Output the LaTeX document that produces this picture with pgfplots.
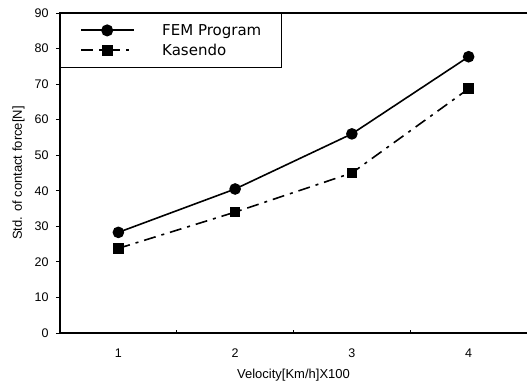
\documentclass[border=0pt]{standalone}
\usepackage{fontspec}
\setmainfont{Liberation Sans}
\newfontfamily\legfont{DejaVu Sans}
\usepackage{pgfplots}
\pgfplotsset{compat=1.18}
\begin{document}
\begin{tikzpicture}
\begin{axis}[
  scale only axis, width=467pt, height=320pt,
  xmin=0.5, xmax=4.5, ymin=0, ymax=90,
  clip=false,
  axis line style={draw=none},
  /pgf/number format/assume math mode=true,
  xtick={1,2,3,4},
  minor xtick={1.5,2.5,3.5},
  xtick pos=bottom, ytick pos=left,
  xtick align=inside, ytick align=outside,
  major tick length=4pt, minor tick length=3pt,
  major x tick style={draw=none},
  minor x tick style={black, line width=0.6pt},
  major y tick style={black, line width=0.8pt},
  ytick={0,10,...,90},
  tick label style={font=\fontsize{12.5}{14}\selectfont},
  xticklabel style={yshift=-12pt},
  yticklabel style={xshift=-4pt},
  label style={font=\fontsize{13}{15}\selectfont},
  xlabel={Velocity[Km/h]X100},
  ylabel={Std. of contact force[N]},
  xlabel style={yshift=-5pt},
  ylabel style={yshift=3pt},
  legend cell align=left,
  legend style={name=leg, at={(0,1)}, anchor=north west, draw=none,
    font=\legfont\fontsize{15}{18}\selectfont, row sep=3pt, inner ysep=9pt,
    inner xsep=2pt},
  every legend image post/.style={line width=2pt},
  legend image code/.code={\path (-18pt,0pt); \draw[mark repeat=2,mark phase=2,#1] plot coordinates {(0pt,0pt) (26pt,0pt) (53pt,0pt)};\path (78pt,0pt);},
]
\draw[line width=1.2pt] (rel axis cs:1,1) -- (rel axis cs:0,1) -- (rel axis cs:0,0) -- (rel axis cs:1,0);
\addplot[black, line width=1.6pt, mark=*, mark size=5pt, mark options={solid}]
  coordinates {(1,28.3) (2,40.5) (3,56) (4,77.7)};
\addlegendentry{FEM Program\kern16pt}
\addplot[black, line width=1.6pt, dash pattern=on 12pt off 6pt on 3pt off 6pt, mark=square*, mark size=4.5pt, mark options={solid}]
  coordinates {(1,23.8) (2,34) (3,45) (4,68.7)};
\addlegendentry{Kasendo}
\end{axis}
\draw[line width=1.1pt] (leg.south west) rectangle (leg.north east);
\path ([shift={(-60pt,-52pt)}]current axis.south west) rectangle ([shift={(3pt,13pt)}]current axis.north east);
\end{tikzpicture}
\end{document}
